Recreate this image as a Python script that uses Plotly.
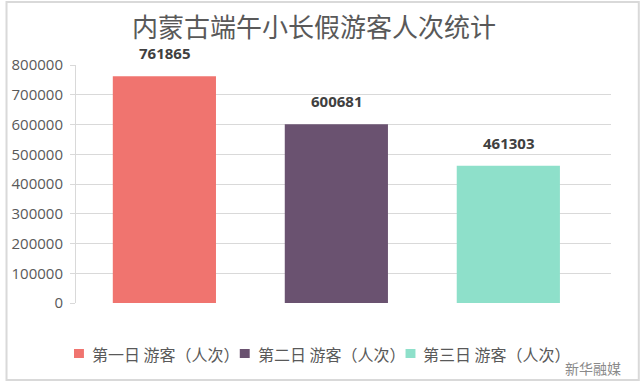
import plotly.graph_objects as go

categories = ["第一日 游客（人次）", "第二日 游客（人次）", "第三日 游客（人次）"]
values = [761865, 600681, 461303]
colors = ["#F0746F", "#6A5270", "#8EE0CA"]
yticks = [0, 100000, 200000, 300000, 400000, 500000, 600000, 700000, 800000]

L, R, T, B = 72, 29, 65, 89
W, H = 640, 392
pw, ph = W - L - R, H - T - B

def px(x):
    return (x - L) / pw

def py(y):
    return (H - B - y) / ph

fig = go.Figure()
for c, v, col in zip(categories, values, colors):
    fig.add_trace(go.Bar(x=[c], y=[v], name=c, marker=dict(color=col, line=dict(width=0)),
                         width=0.6, hoverinfo="y", showlegend=False))
    fig.add_annotation(x=c, y=v, text=f"<b>{v}</b>", showarrow=False, yanchor="bottom",
                       yshift=11, font=dict(family="Open Sans, Noto Sans", size=15, color="#404040"))

# manual legend
leg_x = [70, 237, 404]
for lx, c, col in zip(leg_x, categories, colors):
    fig.add_shape(type="rect", xref="paper", yref="paper", x0=px(lx), x1=px(lx + 10),
                  y0=py(358), y1=py(349), fillcolor=col, line=dict(width=0))
    fig.add_annotation(xref="paper", yref="paper", x=px(lx + 16), y=py(354), text=c,
                       showarrow=False, xanchor="left", yanchor="middle",
                       font=dict(family="Noto Sans CJK SC", size=16, color="#595959"))

fig.add_annotation(xref="paper", yref="paper", x=px(563), y=py(368), text="新华融媒",
                   showarrow=False, xanchor="left", yanchor="middle",
                   font=dict(family="Noto Sans CJK SC", size=14, color="#8a8a8a"))

fig.add_shape(type="rect", xref="paper", yref="paper", x0=px(2), x1=px(639), y0=py(380), y1=py(2),
              line=dict(color="#d9d9d9", width=2), layer="below")

fig.update_layout(
    width=W, height=H,
    margin=dict(l=L, r=R, t=T, b=B),
    paper_bgcolor="white", plot_bgcolor="white",
    barmode="overlay",
    title=dict(text="内蒙古端午小长假游客人次统计", xref="container", x=314 / W, xanchor="center",
               yref="container", y=1 - 28 / H, yanchor="middle",
               font=dict(family="Noto Sans CJK SC", size=26, color="#595959")),
    showlegend=False,
    xaxis=dict(type="category", range=[-0.514, 2.597], showticklabels=False, showgrid=False,
               showline=False, zeroline=False, ticks=""),
    yaxis=dict(range=[0, 800000], tickvals=yticks, ticktext=[str(t) for t in yticks],
               showgrid=True, gridcolor="#d9d9d9", gridwidth=1,
               showline=True, linecolor="#d9d9d9", linewidth=1,
               ticks="outside", ticklen=5, tickcolor="#d9d9d9", ticklabelstandoff=4,
               zeroline=False,
               tickfont=dict(family="Open Sans", size=15, color="#595959")),
)

fig.write_html("out.html", config={"displayModeBar": False},
               post_script="document.body.style.margin='0px';")
